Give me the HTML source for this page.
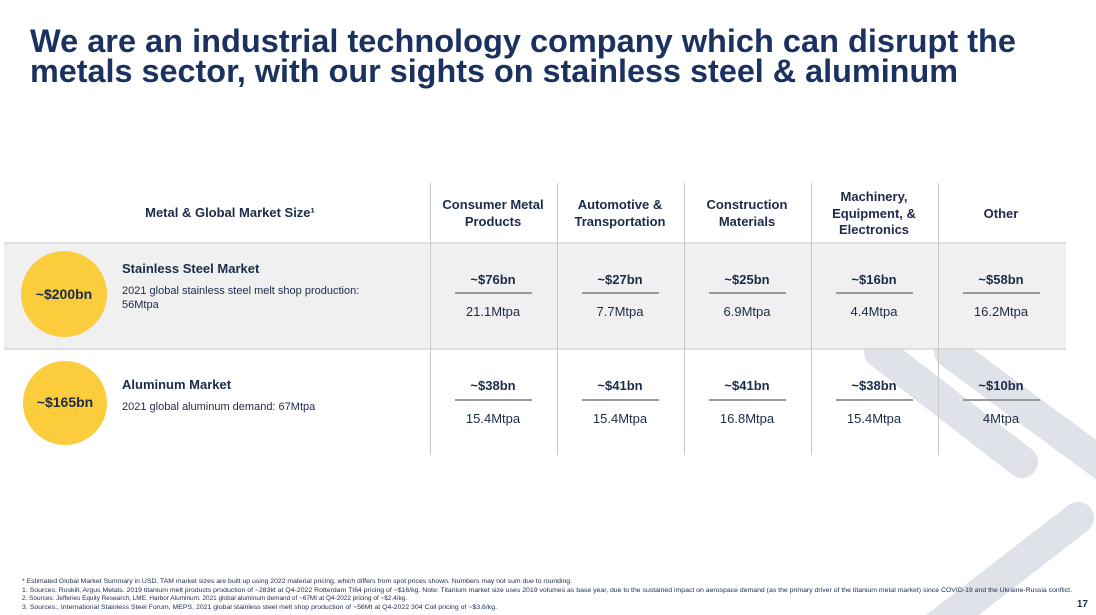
<!DOCTYPE html>
<html><head><meta charset="utf-8"><style>
html,body{margin:0;padding:0;background:#fff;width:1096px;height:615px;overflow:hidden;}
svg{display:block;font-family:"Liberation Sans",Arial,sans-serif;}
</style></head><body>
<svg width="1096" height="615" viewBox="0 0 1096 615" xmlns="http://www.w3.org/2000/svg" overflow="hidden">
<defs><clipPath id="c"><rect x="0" y="0" width="1096" height="615"/></clipPath></defs>
<g clip-path="url(#c)">
<g stroke="#dfe2e8" stroke-width="32" stroke-linecap="round" fill="none">
<line x1="880" y1="352" x2="1022" y2="462"/>
<line x1="950" y1="352" x2="1110" y2="470"/>
<line x1="1078" y1="518" x2="920" y2="640"/>
</g>
<g fill="#1b3260" font-weight="bold" font-size="32">
<text x="30" y="52" textLength="986" lengthAdjust="spacingAndGlyphs">We are an industrial technology company which can disrupt the</text>
<text x="30" y="82" textLength="928" lengthAdjust="spacingAndGlyphs">metals sector, with our sights on stainless steel &amp; aluminum</text>
</g>
<rect x="4" y="243" width="1062" height="106" fill="#f0f0f0"/>
<line x1="4" y1="243" x2="1066" y2="243" stroke="#c8c8c8" stroke-width="1"/>
<line x1="4" y1="349" x2="1066" y2="349" stroke="#c8c8c8" stroke-width="1"/>
<g stroke="#c8c8c8" stroke-width="1">
<line x1="430.5" y1="183" x2="430.5" y2="455"/>
<line x1="557.5" y1="183" x2="557.5" y2="455"/>
<line x1="684.5" y1="183" x2="684.5" y2="455"/>
<line x1="811.5" y1="183" x2="811.5" y2="455"/>
<line x1="938.5" y1="183" x2="938.5" y2="455"/>
</g>
<g fill="#1c2b4a" font-weight="bold" font-size="13" text-anchor="middle">
<text x="230" y="217">Metal &amp; Global Market Size¹</text>
<text x="493" y="209">Consumer Metal</text><text x="493" y="226">Products</text>
<text x="620" y="209">Automotive &amp;</text><text x="620" y="226">Transportation</text>
<text x="747" y="209">Construction</text><text x="747" y="226">Materials</text>
<text x="874" y="201">Machinery,</text><text x="874" y="218">Equipment, &amp;</text><text x="874" y="234">Electronics</text>
<text x="1001" y="218">Other</text>
</g>
<circle cx="64" cy="294" r="43" fill="#fbcc3b"/>
<circle cx="65" cy="403" r="42" fill="#fbcc3b"/>
<g fill="#1c2b4a" font-weight="bold" font-size="14" text-anchor="middle">
<text x="64" y="299">~$200bn</text>
<text x="65" y="407">~$165bn</text>
</g>
<g fill="#1c2b4a">
<text x="122" y="273" font-weight="bold" font-size="13">Stainless Steel Market</text>
<text x="122" y="294" font-size="11">2021 global stainless steel melt shop production:</text>
<text x="122" y="308" font-size="11">56Mtpa</text>
<text x="122" y="389" font-weight="bold" font-size="13">Aluminum Market</text>
<text x="122" y="410" font-size="11">2021 global aluminum demand: 67Mtpa</text>
</g>
<g fill="#1c2b4a" font-size="13" text-anchor="middle">
<g font-weight="bold">
<text x="493" y="284">~$76bn</text><text x="620" y="284">~$27bn</text><text x="747" y="284">~$25bn</text><text x="874" y="284">~$16bn</text><text x="1001" y="284">~$58bn</text>
<text x="493" y="390">~$38bn</text><text x="620" y="390">~$41bn</text><text x="747" y="390">~$41bn</text><text x="874" y="390">~$38bn</text><text x="1001" y="390">~$10bn</text>
</g>
<text x="493" y="316">21.1Mtpa</text><text x="620" y="316">7.7Mtpa</text><text x="747" y="316">6.9Mtpa</text><text x="874" y="316">4.4Mtpa</text><text x="1001" y="316">16.2Mtpa</text>
<text x="493" y="423">15.4Mtpa</text><text x="620" y="423">15.4Mtpa</text><text x="747" y="423">16.8Mtpa</text><text x="874" y="423">15.4Mtpa</text><text x="1001" y="423">4Mtpa</text>
</g>
<g stroke="#999" stroke-width="2">
<line x1="455" y1="293" x2="532" y2="293"/><line x1="582" y1="293" x2="659" y2="293"/><line x1="709" y1="293" x2="786" y2="293"/><line x1="836" y1="293" x2="913" y2="293"/><line x1="963" y1="293" x2="1040" y2="293"/>
<line x1="455" y1="400" x2="532" y2="400"/><line x1="582" y1="400" x2="659" y2="400"/><line x1="709" y1="400" x2="786" y2="400"/><line x1="836" y1="400" x2="913" y2="400"/><line x1="963" y1="400" x2="1040" y2="400"/>
</g>
<g fill="#1c2b4a" font-size="6.5">
<text x="22" y="583" textLength="550" lengthAdjust="spacingAndGlyphs">* Estimated Global Market Summary in USD. TAM market sizes are built up using 2022 material pricing, which differs from spot prices shown. Numbers may not sum due to rounding.</text>
<text x="22" y="592" textLength="1050" lengthAdjust="spacingAndGlyphs">1. Sources: Roskill, Argus Metals. 2019 titanium melt products production of ~283kt at Q4-2022 Rotterdam TI64 pricing of ~$16/kg. Note: Titanium market size uses 2019 volumes as base year, due to the sustained impact on aerospace demand (as the primary driver of the titanium metal market) since COVID-19 and the Ukraine-Russia conflict.</text>
<text x="22" y="600" textLength="385" lengthAdjust="spacingAndGlyphs">2. Sources: Jefferies Equity Research, LME. Harbor Aluminum. 2021 global aluminum demand of ~67Mt at Q4-2022 pricing of ~$2.4/kg.</text>
<text x="22" y="609" textLength="475" lengthAdjust="spacingAndGlyphs">3. Sources:, International Stainless Steel Forum, MEPS, 2021 global stainless steel melt shop production of ~56Mt at Q4-2022 304 Coil pricing of ~$3.6/kg.</text>
</g>
<text x="1088" y="607" fill="#1c2b4a" font-size="10" font-weight="bold" text-anchor="end">17</text>
</g>
</svg>
</body></html>
